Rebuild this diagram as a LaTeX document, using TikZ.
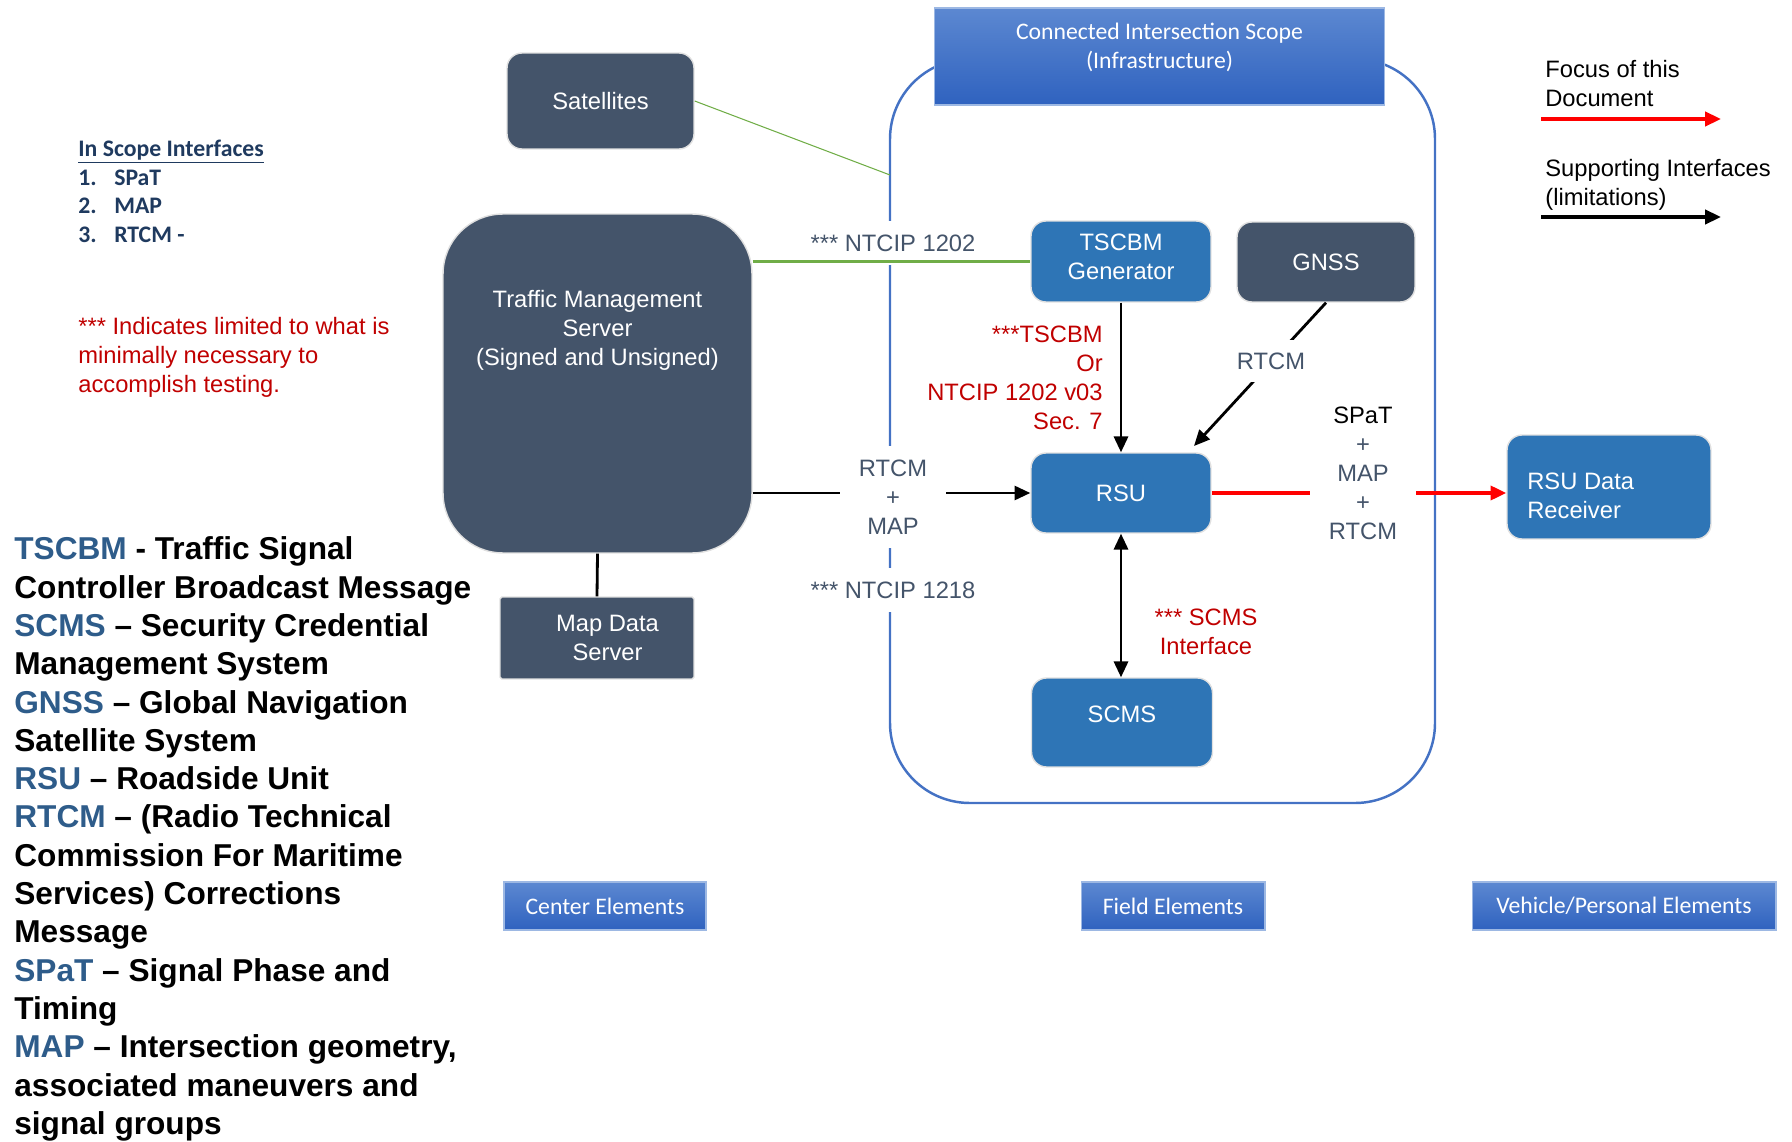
\documentclass[tikz,border=0pt]{standalone}
\usepackage{fontspec}
\setmainfont{Liberation Sans}
\newfontfamily\calibri{Carlito}
\usepackage{tikz}
\usetikzlibrary{positioning,arrows.meta}
\definecolor{slate}{HTML}{44546A}
\definecolor{fieldblue}{HTML}{2E75B6}
\definecolor{scopeblue}{HTML}{4472C4}
\definecolor{notered}{HTML}{C00000}
\definecolor{defblue}{HTML}{2E5C8A}
\definecolor{listblue}{HTML}{1F3A5F}
\definecolor{ifgreen}{HTML}{70AD47}
\definecolor{hdtop}{HTML}{5C88D1}
\definecolor{hdbot}{HTML}{2F62BF}
\definecolor{legred}{HTML}{FF0000}
\newcommand{\txt}{\fontsize{13.5}{16.5}\selectfont}
\newcommand{\kw}[1]{\textcolor{defblue}{#1}}

\begin{document}
\begin{tikzpicture}[x=0.02cm, y=-0.02cm, >={Triangle[length=9pt,width=8pt]},
        box/.style={draw=black!12, line width=0.8pt, fill=slate, text=white, font=\txt, align=center, inner sep=0pt, rounded corners=0.3cm},
        fieldbox/.style={box, fill=fieldblue},
        tag/.style={fill=white, text=slate, font=\txt, align=center, inner xsep=11pt, inner ysep=8pt},
        redtag/.style={text=notered, font=\txt, inner sep=0pt},
        banner/.style={top color=hdtop, bottom color=hdbot, draw=hdtop!60!white, line width=0.6pt, inner sep=0pt},
        plain/.style={inner sep=0pt, font=\txt, align=left}]
        \useasboundingbox (0,0) rectangle (1792,1142);
        % connected intersection scope
        \draw[scopeblue, line width=1.4pt, rounded corners=1.6cm] (890,59) rectangle (1435,803);
        \coordinate (scopeedge) at (890,175);
        \node[banner, minimum width=9.02cm, minimum height=1.94cm] (scopehead) at (1159.5,56.5) {};
        \node[text=white, font=\calibri\txt, align=center] (scopetitle) at (1159.5,47) {Connected Intersection Scope\\(Infrastructure)};
        % center and field boxes
        \node[box, minimum width=3.74cm, minimum height=1.92cm] (sat) at (600.5,101) {Satellites};
        \node[box, rounded corners=1.2cm, minimum width=6.18cm, minimum height=6.78cm] (tms) at (597.5,383.5) {};
        \node[text=white, font=\txt, align=center] (tmstext) at (597.5,330) {Traffic Management\\Server\\(Signed and Unsigned)};
        \node[box, rounded corners=1pt, minimum width=3.88cm, minimum height=1.64cm] (mds) at (597,638) {\hspace*{12pt}Map Data\\\hspace*{12pt}Server};
        \node[fieldbox, minimum width=3.6cm, minimum height=1.62cm, text depth=6pt] (tscbm) at (1121,261.5) {TSCBM\\Generator};
        \node[box, minimum width=3.56cm, minimum height=1.6cm] (gnss) at (1326,262) {GNSS};
        \node[fieldbox, minimum width=3.6cm, minimum height=1.6cm] (rsu) at (1121,493) {RSU};
        \node[fieldbox, minimum width=3.62cm, minimum height=1.78cm, text depth=9pt] (scms) at (1122,722.5) {SCMS};
        \node[fieldbox, minimum width=4.08cm, minimum height=2.08cm] (rdr) at (1609,487) {};
        \node[plain, anchor=west, text=white] (rdrtext) at (1527,496) {RSU Data\\Receiver};
        % interfaces
        \node[tag] (ntcip1202) at (893,243) {*** NTCIP 1202};
        \draw[ifgreen, line width=1.7pt] (tms.east |- tscbm.west) -- (tscbm.west);
        \draw[ifgreen, line width=0.6pt] (sat.east) -- (scopeedge);
        \draw[->, line width=1.6pt] (tms.east |- rsu.west) -- (rsu.west);
        \node[tag] (rtcmmap) at (893,497) {RTCM\\+\\MAP};
        \node[tag] (ntcip1218) at (893,590) {*** NTCIP 1218};
        \draw[line width=1.6pt] (tms.south) -- (mds.north);
        \draw[->, line width=1.6pt] (tscbm.south) -- (rsu.north);
        \node[redtag, anchor=east, align=right] (tscbmmsg) at (1103,378) {***TSCBM\\Or\\NTCIP 1202 v03\\Sec. 7};
        \coordinate (gnsstip) at (1194,446);
        \draw[->, line width=1.6pt] (gnss.south) -- (gnsstip);
        \node[tag, inner xsep=4pt, inner ysep=7pt] (gnssrtcm) at (1271,361) {RTCM};
        \draw[<->, line width=1.6pt] (rsu.south) -- (rsu.south |- scms.north);
        \node[redtag, align=center] (scmsif) at (1206,632) {*** SCMS\\Interface};
        \draw[->, line width=2pt, legred] (rsu.east) -- (rsu.east -| rdr.west);
        \node[tag] (rsuout) at (1363,473) {\textcolor{black}{SPaT}\\+\\MAP\\+\\RTCM};
        % legend
        \node[plain, anchor=west] (focus) at (1545,84) {Focus of this\\Document};
        \coordinate (focusa) at (1541,119);
        \coordinate (focusb) at (1721,119);
        \draw[->, line width=2pt, legred] (focusa) -- (focusb);
        \node[plain, anchor=west] (support) at (1545,185) {Supporting Interfaces\\(limitations)};
        \coordinate (supporta) at (1541,217);
        \coordinate (supportb) at (1721,217);
        \draw[->, line width=2pt] (supporta) -- (supportb);
        % in scope list and notes
        \node[plain, anchor=west, font=\calibri\bfseries\txt, text=listblue] (scopelist) at (78,152) {\underline{In Scope Interfaces}};
        \foreach \n/\msg in {1/SPaT, 2/MAP, 3/RTCM -}
        {
        \node[plain, anchor=west, font=\calibri\bfseries\txt, text=listblue] (num\n) at (78,149+28.5*\n) {\n.};
        \node[plain, anchor=west, font=\calibri\bfseries\txt, text=listblue, right=0.72cm of num\n.west] (item\n) {\msg};
        }
        \node[plain, anchor=west, text=notered] (limitnote) at (78,357) {*** Indicates limited to what is\\minimally necessary to\\accomplish testing.};
        \node[plain, anchor=west, font=\fontsize{18}{21.8}\selectfont\bfseries] (glossary) at (14,839) {\kw{TSCBM} - Traffic Signal\\Controller Broadcast Message\\\kw{SCMS} -- Security Credential\\Management System\\\kw{GNSS} -- Global Navigation\\Satellite System\\\kw{RSU} -- Roadside Unit\\\kw{RTCM} -- (Radio Technical\\Commission For Maritime\\Services) Corrections\\Message\\\kw{SPaT} -- Signal Phase and\\Timing\\\kw{MAP} -- Intersection geometry,\\associated maneuvers and\\signal groups};
        % element groups
        \foreach \name/\cx/\boxw/\msg in {center/605/4.04/{Center Elements}, field/1173/3.68/{Field Elements}, vehicle/1624/6.08/{Vehicle/Personal Elements}}
        \node[banner, minimum width=\boxw cm, minimum height=0.96cm, text=white, font=\calibri\txt] (\name) at (\cx,906) {\msg};
\end{tikzpicture}
\end{document}
